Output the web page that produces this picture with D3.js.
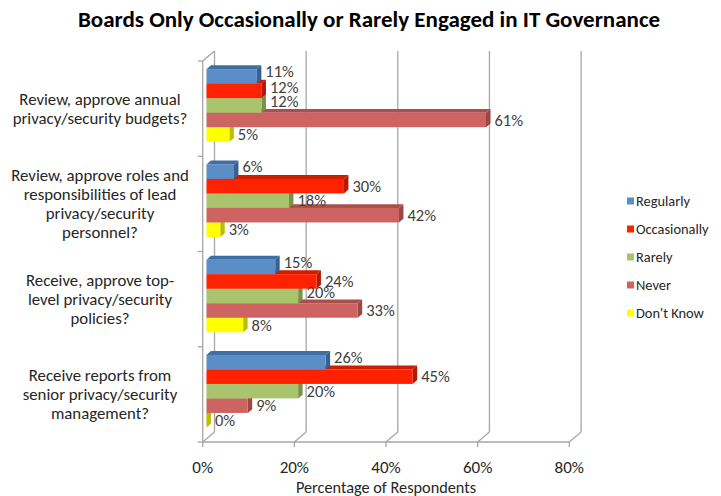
<!DOCTYPE html>
<html><head><meta charset="utf-8">
<script src="https://cdn.jsdelivr.net/npm/d3@7"></script>
<style>body{margin:0;background:#fff}svg{display:block}</style>
</head><body>
<script>
// ---- data ----
const categories = [
  ["Review, approve annual", "privacy/security budgets?"],
  ["Review, approve roles and", "responsibilities of lead", "privacy/security", "personnel?"],
  ["Receive, approve top-", "level privacy/security", "policies?"],
  ["Receive reports from", "senior privacy/security", "management?"]
];
const seriesNames = ["Regularly", "Occasionally", "Rarely", "Never", "Don't Know"];
const regularly    = [11, 6, 15, 26];
const occasionally = [12, 30, 24, 45];
const rarely       = [12, 18, 20, 20];
const never        = [61, 42, 33, 9];
const dontKnow     = [5, 3, 8, 0];
const tickValues = [0, 20, 40, 60, 80];
const tickLabels = ["0%", "20%", "40%", "60%", "80%"];
const title = "Boards Only Occasionally or Rarely Engaged in IT Governance";
const axisTitle = "Percentage of Respondents";

// ---- styles ----
const seriesValues = [regularly, occasionally, rarely, never, dontKnow];
const frontColors = ["#5B8DC9", "#FF2200", "#A9C46C", "#CD6462", "#FFFF00"];
const topColors   = ["#3F6EA2", "#D01C00", "#8CA556", "#A9504E", "#D6D600"];
const sideColors  = ["#37618F", "#B81800", "#7A914A", "#9A4745", "#BDBD00"];
const FONT = "Carlito, Lato, 'Open Sans', sans-serif";
const W = 721, H = 496;

const svg = d3.select("body").append("svg").attr("width", W).attr("height", H)
  .style("font-family", FONT);

const x = d3.scaleLinear().domain([0, 80]).range([202.7, 569.3]);
const catIdx = categories.map((d, i) => i);
const y = d3.scaleBand().domain(catIdx).range([61, 442]).paddingInner(0).paddingOuter(0);
const inner = d3.scaleBand().domain(d3.range(seriesNames.length)).range([0, y.bandwidth()])
  .paddingInner(0).paddingOuter(0.78);

const DX = 11.8, DY = -10;              // full depth of the 3D frame
const bx = DX * 0.32, by = DY * 0.32;   // bar front plane offset
const bdx = DX * 0.38, bdy = DY * 0.38; // bar depth

const gridColor = "#A6A6A6";
const g = svg.append("g").attr("stroke", gridColor).attr("stroke-width", 1.3).attr("fill", "none");
const yTop = y.range()[0], yBot = y.range()[1];
tickValues.forEach(t => {
  g.append("line").attr("x1", x(t) + DX).attr("y1", yTop + DY).attr("x2", x(t) + DX).attr("y2", yBot + DY);
  g.append("line").attr("x1", x(t) + DX).attr("y1", yBot + DY).attr("x2", x(t)).attr("y2", yBot);
  g.append("line").attr("x1", x(t)).attr("y1", yBot).attr("x2", x(t)).attr("y2", yBot + 5);
});
g.append("line").attr("x1", x(0)).attr("y1", yBot).attr("x2", x(80)).attr("y2", yBot);
g.append("line").attr("x1", x(0)).attr("y1", yTop).attr("x2", x(0)).attr("y2", yBot);
g.append("line").attr("x1", x(0)).attr("y1", yTop).attr("x2", x(0) + DX).attr("y2", yTop + DY);
catIdx.concat([categories.length]).forEach(i => {
  const yy = i < categories.length ? y(i) : yBot;
  g.append("line").attr("x1", x(0) - 5).attr("y1", yy).attr("x2", x(0)).attr("y2", yy);
});

// bars
const bars = svg.append("g");
const labels = [];
const LABEL_SIZE = 16.5;
catIdx.forEach(ci => {
  const catLabels = [];
  for (let s = seriesNames.length - 1; s >= 0; s--) {
    const v = seriesValues[s][ci];
    const x0 = x(0) + bx, x1 = x(v) + bx;
    const yT = y(ci) + inner(s) + by, yB = yT + inner.bandwidth();
    bars.append("polygon")
      .attr("points", [[x0, yT], [x1, yT], [x1 + bdx, yT + bdy], [x0 + bdx, yT + bdy]].join(" "))
      .attr("fill", topColors[s]);
    bars.append("polygon")
      .attr("points", [[x1, yT], [x1 + bdx, yT + bdy], [x1 + bdx, yB + bdy], [x1, yB]].join(" "))
      .attr("fill", sideColors[s]);
    bars.append("rect").attr("x", x0).attr("y", yT).attr("width", Math.max(0, x1 - x0))
      .attr("height", yB - yT).attr("fill", frontColors[s]);
    catLabels[s] = {v, s, lx: x1 + bdx + 4, ly: (yT + yB) / 2 + (s === 0 ? -5 : 0)};
  }
  // crowding: a label whose x-range meets the one above it is nudged up a little
  for (let s = 1; s < catLabels.length; s++) {
    const prev = catLabels[s - 1], cur = catLabels[s];
    if (Math.abs(cur.lx - prev.lx) < 30) cur.ly -= 4;
  }
  labels.push(...catLabels);
});
svg.append("g").selectAll("text").data(labels).join("text")
  .attr("x", d => d.lx).attr("y", d => d.ly).attr("dy", "0.35em")
  .attr("font-size", LABEL_SIZE).attr("fill", "#404040")
  .text(d => d.v + "%");

// category labels
const lh = 19;
categories.forEach((lines, ci) => {
  const cy = y(ci) + y.bandwidth() / 2;
  const t = svg.append("text").attr("text-anchor", "middle").attr("font-size", 16.8)
    .attr("fill", "#262626");
  lines.forEach((ln, k) => {
    t.append("tspan").attr("x", 100)
      .attr("y", cy + (k - (lines.length - 1) / 2) * lh).attr("dy", "0.35em").text(ln);
  });
});

// x tick labels
svg.append("g").selectAll("text").data(tickValues).join("text")
  .attr("x", d => x(d)).attr("y", 467).attr("dy", "0.35em").attr("text-anchor", "middle")
  .attr("font-size", 17).attr("fill", "#262626")
  .text((d, i) => tickLabels[i]);
svg.append("text").attr("x", 386).attr("y", 487).attr("dy", "0.35em").attr("text-anchor", "middle")
  .attr("font-size", 16.3).attr("fill", "#262626").text(axisTitle);

// title
svg.append("text").attr("x", 369).attr("y", 19).attr("dy", "0.35em").attr("text-anchor", "middle")
  .attr("font-size", 23).attr("font-weight", "bold").attr("fill", "#000").text(title);

// legend
const leg = svg.append("g").selectAll("g").data(seriesNames).join("g")
  .attr("transform", (d, i) => `translate(627, ${201 + i * 28})`);
leg.append("rect").attr("x", 0).attr("y", -3.5).attr("width", 7).attr("height", 7)
  .attr("fill", (d, i) => frontColors[i]);
leg.append("text").attr("x", 9).attr("y", 0).attr("dy", "0.35em").attr("font-size", 14.4)
  .attr("fill", "#262626").text(d => d);
</script>
</body></html>
